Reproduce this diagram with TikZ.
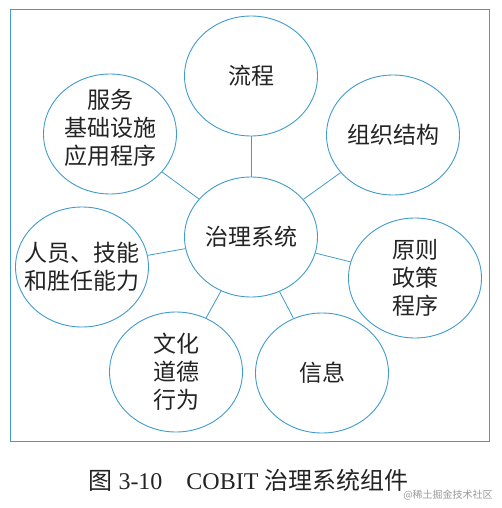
\documentclass[tikz,border=0pt]{standalone}
\usepackage{fontspec}
\setmainfont{Liberation Serif}
\newfontfamily\cjk{Noto Sans CJK SC}
\usetikzlibrary{shapes.geometric}
\definecolor{cobitblue}{RGB}{64,156,204}
\definecolor{inkgray}{RGB}{35,35,35}

\begin{document}
\begin{tikzpicture}[x=1pt,y=-1pt,
    part/.style={ellipse,draw=cobitblue,line width=0.9pt,minimum width=133pt,minimum height=120pt,inner sep=0pt,fill=white},
    every label/.style={align=center,text=inkgray,font=\cjk\fontsize{23}{28}\selectfont},
    link/.style={draw=cobitblue,line width=0.8pt}]
    \useasboundingbox (0,0) rectangle (502,508);
    \draw[cobitblue,line width=0.9pt] (10,9) rectangle (489,441);
    \node[part,label={center:治理系统}] (core) at (251,237) {};
    \node[part,label={center:流程}] (proc) at (251,76) {};
    \node[part,label={[yshift=6pt]center:服务\\基础设施\\应用程序}] (svc) at (110,134) {};
    \node[part,label={center:组织结构}] (org) at (393,135) {};
    \node[part,label={center:原则\\政策\\程序}] (prin) at (415,278) {};
    \node[part,label={center:信息}] (info) at (322,373) {};
    \node[part,label={center:文化\\道德\\行为}] (cult) at (176,372) {};
    \node[part,label={center:人员、技能\\和胜任能力}] (ppl) at (82,267) {};
    \draw[link] (core) -- (proc);
    \draw[link] (core) -- (svc);
    \draw[link] (core) -- (org);
    \draw[link] (core) -- (prin);
    \draw[link] (core) -- (info);
    \draw[link] (core) -- (cult);
    \draw[link] (core) -- (ppl);
    \node[text=inkgray,font=\fontsize{24}{28}\selectfont] (caption) at (248.5,480) {{\cjk 图} 3-10\quad COBIT {\cjk 治理系统组件}};
    \node[text=black!40,font=\cjk\fontsize{10}{12}\selectfont] (mark) at (448,495) {@稀土掘金技术社区};
\end{tikzpicture}
\end{document}
